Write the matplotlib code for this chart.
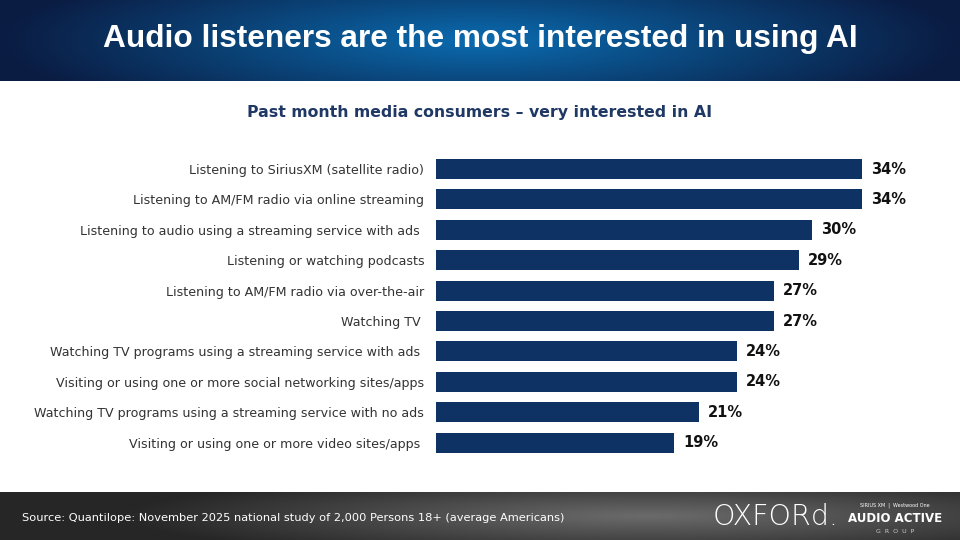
import numpy as np
import matplotlib
matplotlib.use("Agg")
import matplotlib.pyplot as plt

categories = [
    "Listening to SiriusXM (satellite radio)",
    "Listening to AM/FM radio via online streaming",
    "Listening to audio using a streaming service with ads ",
    "Listening or watching podcasts",
    "Listening to AM/FM radio via over-the-air",
    "Watching TV ",
    "Watching TV programs using a streaming service with ads ",
    "Visiting or using one or more social networking sites/apps",
    "Watching TV programs using a streaming service with no ads",
    "Visiting or using one or more video sites/apps ",
]
values = [34, 34, 30, 29, 27, 27, 24, 24, 21, 19]

title = "Audio listeners are the most interested in using AI"
subtitle = "Past month media consumers \u2013 very interested in AI"
source = "Source: Quantilope: November 2025 national study of 2,000 Persons 18+ (average Americans)"

W, H = 960, 540
fig = plt.figure(figsize=(W / 100, H / 100), dpi=100)
fig.patch.set_facecolor("white")


def px_axes(x0, y0, x1, y1):
    # pixel box (top-left origin) -> figure axes
    return fig.add_axes([x0 / W, 1 - y1 / H, (x1 - x0) / W, (y1 - y0) / H])


# header band with radial blue gradient
hdr = px_axes(0, 0, W, 81)
gx, gy = np.meshgrid(np.linspace(-1, 1, 480), np.linspace(-1, 1, 60))
r = np.clip(np.sqrt((gx / 1.0) ** 2 + (gy / 2.2) ** 2), 0, 1)
c_in = np.array([0x0b, 0x6c, 0xb0]) / 255
c_out = np.array([0x0a, 0x1c, 0x42]) / 255
img = c_in[None, None, :] * (1 - r[..., None]) + c_out[None, None, :] * r[..., None]
hdr.imshow(img, aspect="auto", extent=[0, 1, 0, 1])
hdr.set_axis_off()
hdr.text(0.5, 0.52, title, color="white", fontsize=22.8, fontweight="bold",
         ha="center", va="center", family="Liberation Sans")

# footer band, dark grey
ftr = px_axes(0, 492, W, H)
fx, fy = np.meshgrid(np.linspace(-1, 1, 480), np.linspace(-1, 1, 30))
rf = np.clip(np.sqrt(((fx - 0.35) / 1.1) ** 2 + (fy / 1.8) ** 2), 0, 1)
g_in, g_out = 0.42, 0.15
gimg = (g_in * (1 - rf) + g_out * rf)[..., None].repeat(3, axis=2)
ftr.imshow(gimg, aspect="auto", extent=[0, 1, 0, 1])
ftr.set_axis_off()
ftr.text(22 / W, 0.46, source, color="white", fontsize=8.2, ha="left", va="center")
ftr.text(776 / W, 0.48, "OXFORd.", color="white", fontsize=20.5, ha="center",
         va="center", fontweight="light", family="DejaVu Sans")
ftr.text(895 / W, 0.72, "SIRIUS XM  |  Westwood One", color="white", fontsize=3.5,
         ha="center", va="center")
ftr.text(895 / W, 0.45, "AUDIO ACTIVE", color="white", fontsize=8.5,
         fontweight="bold", ha="center", va="center")
ftr.text(895 / W, 0.18, "G  R  O  U  P", color="#cccccc", fontsize=4.5,
         ha="center", va="center")

# subtitle
fig.text(0.5, 1 - 112 / H, subtitle, color="#1f3864", fontsize=11.3,
         fontweight="bold", ha="center", va="center")

# bars
ax = px_axes(436, 153.8, 436 + 12.53 * 40, 457.8)
y = np.arange(len(categories))
ax.barh(y, values, height=0.66, color="#0e3263")
ax.set_xlim(0, 40)
ax.set_ylim(len(categories) - 0.5, -0.5)
for s in ax.spines.values():
    s.set_visible(False)
ax.set_xticks([])
ax.set_yticks(y)
ax.set_yticklabels(categories, fontsize=9.1, color="#333333")
ax.tick_params(axis="y", length=0, pad=8.5)
for yi, v in zip(y, values):
    ax.text(v + 0.7, yi, f"{v}%", fontsize=10.5, fontweight="bold",
            color="#111111", ha="left", va="center")

fig.savefig("out.png", dpi=100)
